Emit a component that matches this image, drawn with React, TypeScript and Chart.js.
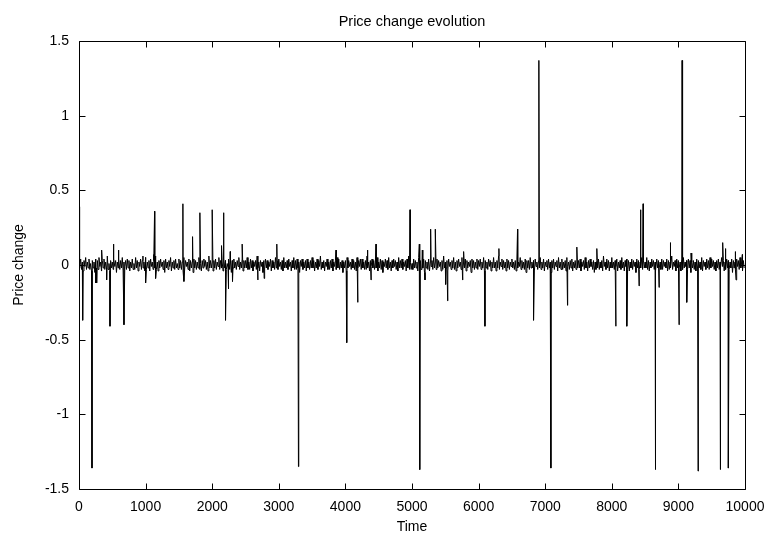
import React, { useEffect, useRef } from "react";
import { Chart, registerables } from "chart.js";

Chart.register(...registerables);

// Background fluctuation, hundredths of a price unit, one reading every NOISE_STEP time units
const NOISE_STEP = 12.5;
const noiseValues: number[] = [
  3,-2,4,-3,2,-4,3,-1,5,-3,2,-2,4,-3,1,-4,3,-2,2,-5,
  4,-2,3,-3,5,-1,2,-4,3,-2,4,-3,2,-2,6,-3,1,-4,3,-2,
  2,-3,4,-1,3,-5,2,-2,4,-3,3,-2,5,-4,2,-1,3,-3,4,-2,
  3,-4,2,-2,4,-3,1,-3,5,-2,3,-4,2,-1,4,-3,3,-2,2,-4,
  5,-3,2,-2,3,-4,4,-1,2,-3,3,-2,6,-3,2,-4,3,-2,4,-1,
  2,-3,3,-5,4,-2,2,-3,3,-1,5,-4,2,-2,3,-3,4,-2,1,-3,
  4,-2,3,-3,2,-4,5,-2,3,-1,2,-3,4,-4,3,-2,2,-5,4,-2,
  3,-3,2,-2,5,-3,1,-4,3,-2,4,-1,3,-3,2,-4,6,-2,3,-2,
  2,-4,3,-2,4,-3,2,-1,5,-3,3,-2,2,-4,4,-2,3,-3,1,-2,
  4,-3,2,-5,3,-2,4,-2,2,-3,3,-1,5,-3,2,-2,4,-4,3,-2,
  3,-2,5,-3,2,-3,4,-2,3,-4,2,-1,3,-3,6,-2,2,-4,3,-1,
  2,-5,3,-2,4,-2,3,-3,2,-1,4,-4,3,-2,2,-3,5,-2,3,-3,
  4,-1,2,-3,3,-4,5,-2,2,-2,3,-3,4,-1,2,-4,3,-2,5,-3,
  3,-3,4,-2,2,-5,3,-1,4,-3,2,-2,3,-4,4,-2,2,-3,3,-2,
  5,-2,3,-4,2,-2,4,-3,3,-1,6,-3,2,-2,3,-4,2,-1,4,-3,
  2,-3,3,-2,4,-4,2,-1,3,-3,5,-2,4,-3,2,-2,3,-5,2,-2,
  3,-4,5,-2,3,-1,2,-3,4,-2,3,-3,2,-4,5,-2,3,-1,4,-3,
  4,-2,2,-3,3,-3,6,-2,2,-4,3,-1,4,-2,3,-3,2,-2,5,-4,
  2,-2,4,-3,3,-5,2,-1,4,-2,3,-3,5,-2,2,-4,3,-2,4,-1,
  3,-3,2,-4,5,-2,3,-2,4,-3,2,-1,3,-4,4,-2,6,-3,2,-3,
  1,-3,4,-2,3,-2,2,-4,5,-1,3,-3,2,-2,4,-5,3,-2,2,-3,
  4,-4,2,-1,3,-3,5,-2,2,-3,4,-2,3,-1,2,-4,3,-3,6,-2,
  2,-2,3,-4,4,-1,2,-3,3,-2,5,-3,2,-4,3,-2,4,-1,2,-3,
  5,-3,2,-2,4,-4,3,-2,2,-1,3,-5,4,-2,3,-3,2,-2,4,-3,
  3,-1,4,-3,2,-2,5,-4,3,-2,2,-3,4,-1,3,-4,2,-2,5,-2,
  2,-4,3,-2,6,-3,2,-1,4,-3,3,-2,2,-4,4,-2,3,-3,2,-1,
  4,-2,2,-3,3,-4,4,-2,2,-1,5,-3,3,-2,2,-3,4,-5,3,-2,
  3,-3,5,-2,2,-2,3,-4,4,-1,2,-3,3,-2,5,-3,2,-2,4,-4,
  2,-1,3,-3,4,-2,2,-5,3,-2,4,-3,2,-1,3,-4,5,-2,2,-3,
  4,-3,2,-2,3,-4,5,-1,2,-3,3,-2,4,-4,2,-2,3,-3,6,-2,
  3,-2,4,-4,2,-1,3,-3,5,-2,2,-4,3,-2,4,-1,2,-3,3,-5,
  2,-3,3,-2,4,-3,2,-2,3,-4,6,-1,2,-3,4,-2,3,-4,2,-2,
  5,-2,2,-3,3,-1,4,-4,2,-2,3,-3,5,-2,2,-4,3,-1,4,-3,
  3,-4,2,-2,4,-3,3,-1,2,-5,4,-2,3,-3,2,-2,5,-3,3,-2,
  2,-2,5,-3,3,-4,2,-2,4,-1,3,-3,2,-4,4,-2,3,-2,2,-3,
  4,-3,3,-1,2,-2,4,-4,3,-3,2,-2,6,-3,2,-1,3,-4,4,-2,
  3,-2,2,-4,4,-3,5,-2,2,-1,3,-3,4,-2,3,-5,2,-2,3,-3,
  2,-4,4,-2,3,-2,2,-3,5,-4,3,-1,2,-3,4,-2,3,-3,5,-2,
  4,-1,3,-3,2,-4,3,-2,4,-3,2,-2,5,-1,3,-4,2,-3,4,-2,
  3,-3,2,-2,4,-5,3,-2,2,-3,4,-1,3,-3,5,-2,2,-4,3,-2,
];

// Individual jumps
const spikeTimes: number[] = [
  5, 55, 195, 250, 265, 340, 415, 465, 515, 590, 675, 960, 1000, 1120, 1135, 1150,
  1560, 1575, 1705, 1815, 2000, 2140, 2170, 2200, 2240, 2270, 2305, 2450, 2685,
  2780, 2970, 3295, 3860, 4020, 4185, 4330, 4385, 4460, 4970, 5110, 5120, 5155,
  5195, 5280, 5350, 5505, 5535, 5760, 5775, 6095, 6305, 6585, 6825, 6905, 7085,
  7335, 7475, 7775, 8060, 8225, 8410, 8430, 8470, 8650, 8710, 8875, 9010, 9055,
  9125, 9190, 9295, 9625, 9665, 9705, 9750, 9850, 9865, 9960,
];
const spikeValues: number[] = [
  0.39, -0.37, -1.36, -0.12, -0.12, 0.10, -0.10, -0.41, 0.14, 0.10, -0.40, 0.06, -0.12, 0.07, 0.36, -0.09,
  0.41, -0.11, 0.19, 0.35, 0.37, 0.13, 0.35, -0.37, -0.16, 0.09, -0.11, 0.14, -0.10,
  -0.09, 0.14, -1.35, 0.10, -0.52, -0.25, 0.10, -0.10, 0.14, 0.37, 0.14, -1.37, 0.10,
  -0.10, 0.24, 0.24, -0.13, -0.24, -0.10, 0.09, -0.41, 0.11, 0.24, -0.37, 1.37, -1.36,
  -0.27, 0.12, 0.11, -0.41, -0.41, -0.14, 0.37, 0.41, -1.37, -0.15, 0.15, -0.40, 1.37,
  -0.25, 0.08, -1.38, -1.37, 0.15, 0.11, -1.36, 0.09, -0.10, 0.07,
];

const xTicks: number[] = [0, 1000, 2000, 3000, 4000, 5000, 6000, 7000, 8000, 9000, 10000];
const yTicks: number[] = [-1.5, -1, -0.5, 0, 0.5, 1, 1.5];

const FONT = "'Liberation Sans', Arial, Helvetica, sans-serif";

const framePlugin = {
  id: "gnuFrame",
  afterDatasetsDraw(chart: any) {
    const { ctx, chartArea: a, scales } = chart;
    const L = Math.round(a.left) + 0.5;
    const R = Math.round(a.right) + 0.5;
    const T = Math.round(a.top) + 0.5;
    const B = Math.round(a.bottom) + 0.5;
    const len = 6;
    ctx.save();
    ctx.strokeStyle = "#000";
    ctx.lineWidth = 1;
    ctx.beginPath();
    ctx.rect(L, T, R - L, B - T);
    xTicks.forEach((v) => {
      const px = Math.round(scales.x.getPixelForValue(v)) + 0.5;
      ctx.moveTo(px, B);
      ctx.lineTo(px, B - len);
      ctx.moveTo(px, T);
      ctx.lineTo(px, T + len);
    });
    yTicks.forEach((v) => {
      const py = Math.round(scales.y.getPixelForValue(v)) + 0.5;
      ctx.moveTo(L, py);
      ctx.lineTo(L + len, py);
      ctx.moveTo(R, py);
      ctx.lineTo(R - len, py);
    });
    ctx.stroke();
    ctx.restore();
  },
};

export default function App() {
  const ref = useRef<HTMLCanvasElement | null>(null);

  useEffect(() => {
    if (!ref.current) return;
    const points: { x: number; y: number }[] = [];
    noiseValues.forEach((v, i) => points.push({ x: i * NOISE_STEP, y: v / 100 }));
    spikeTimes.forEach((t, i) => points.push({ x: t, y: spikeValues[i] }));
    points.sort((p, q) => p.x - q.x);

    const chart = new Chart(ref.current, {
      type: "line",
      data: {
        datasets: [
          {
            data: points,
            borderColor: "#000",
            borderWidth: 1,
            pointRadius: 0,
            tension: 0,
            fill: false,
          },
        ],
      },
      options: {
        animation: false,
        responsive: true,
        maintainAspectRatio: false,
        layout: { padding: { left: 0, right: 24, top: 0, bottom: 0 } },
        plugins: {
          legend: { display: false },
          tooltip: { enabled: false },
          title: { display: false },
        },
        scales: {
          xTop: {
            type: "linear",
            position: "top",
            min: 0,
            max: 10000,
            grid: { display: false, drawTicks: false },
            border: { display: false },
            ticks: { display: false },
            afterFit: (s: any) => {
              s.height = 41;
              s.paddingLeft = 0;
              s.paddingRight = 0;
            },
            title: {
              display: true,
              text: "Price change evolution",
              color: "#000",
              font: { family: FONT, size: 14.5, weight: "normal", lineHeight: 1.2 },
              padding: { top: 13, bottom: 0 },
            },
          },
          x: {
            type: "linear",
            position: "bottom",
            min: 0,
            max: 10000,
            grid: { display: false, drawTicks: false },
            border: { display: false },
            afterBuildTicks: (s: any) => {
              s.ticks = xTicks.map((v) => ({ value: v }));
            },
            afterFit: (s: any) => {
              s.height = 47;
              s.paddingLeft = 0;
              s.paddingRight = 0;
            },
            ticks: {
              color: "#000",
              padding: 10,
              maxRotation: 0,
              autoSkip: false,
              font: { family: FONT, size: 14 },
              callback: (v: any) => String(v),
            },
            title: {
              display: true,
              text: "Time",
              color: "#000",
              font: { family: FONT, size: 14 },
              padding: { top: 0, bottom: 0 },
            },
          },
          y: {
            type: "linear",
            min: -1.5,
            max: 1.5,
            grid: { display: false, drawTicks: false },
            border: { display: false },
            afterBuildTicks: (s: any) => {
              s.ticks = yTicks.map((v) => ({ value: v }));
            },
            afterFit: (s: any) => {
              s.width = 79;
              s.paddingTop = 0;
              s.paddingBottom = 0;
            },
            ticks: {
              color: "#000",
              padding: 10,
              autoSkip: false,
              font: { family: FONT, size: 14 },
              callback: (v: any) => String(v),
            },
            title: {
              display: true,
              text: "Price change",
              color: "#000",
              font: { family: FONT, size: 14 },
              padding: { top: 11, bottom: 0 },
            },
          },
        },
      },
      plugins: [framePlugin],
    });
    return () => chart.destroy();
  }, []);

  return (
    <div
      style={{
        position: "fixed",
        left: 0,
        top: 0,
        width: 769,
        height: 536,
        background: "#fff",
      }}
    >
      <canvas ref={ref} />
    </div>
  );
}
